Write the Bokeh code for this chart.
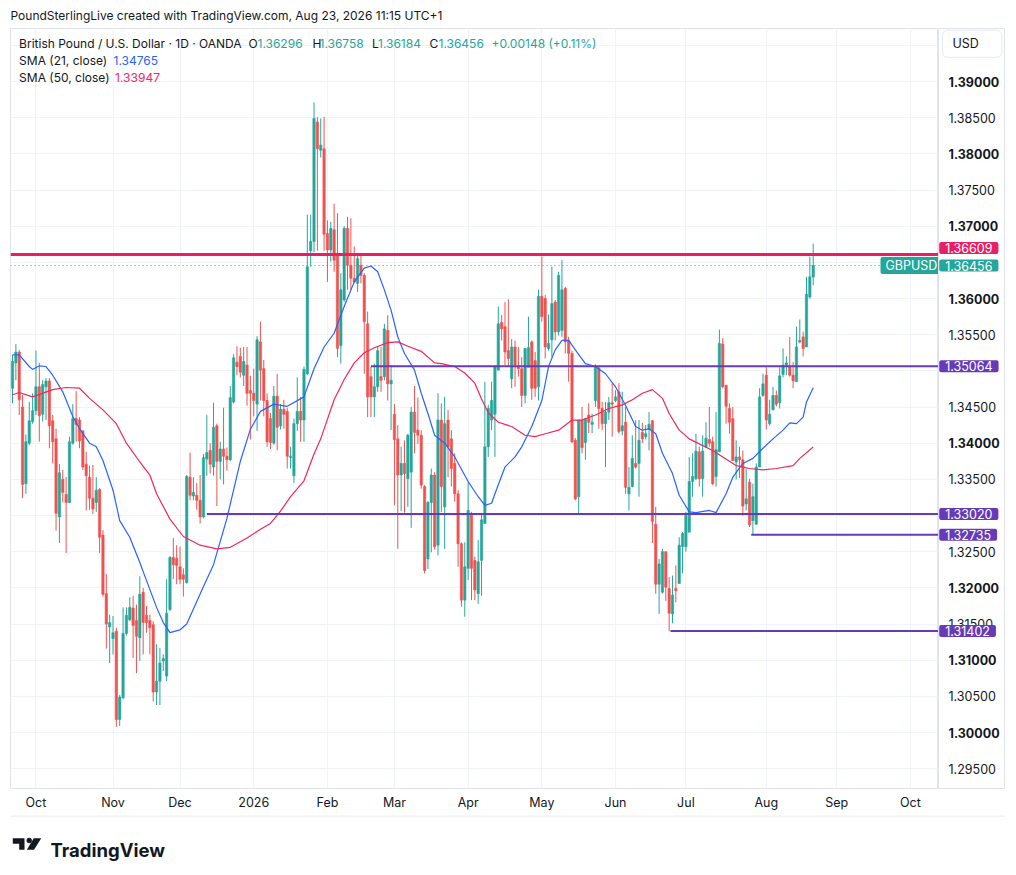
from bokeh.plotting import figure
from bokeh.layouts import column, row
from bokeh.models import (Range1d, FixedTicker, Label, Span, Grid, ColumnDataSource)
from bokeh.embed import file_html
from bokeh.resources import INLINE
from bokeh.core.properties import value

FONT = "Inter"

# ---------------- data ----------------
opens = [1.3476,1.3511,1.3526,1.3450,1.3344,1.3400,1.3430,1.3445,1.3478,1.3440,
1.3478,1.3486,1.3431,1.3406,1.3298,1.3350,1.3329,1.3318,1.3400,1.3434,
1.3432,1.3417,1.3371,1.3353,1.3324,1.3318,1.3336,1.3273,1.3192,1.3146,
1.3130,1.3140,1.3018,1.3048,1.3137,1.3156,1.3172,1.3155,1.3131,1.3194,
1.3162,1.3155,1.3149,1.3056,1.3071,1.3099,1.3078,1.3170,1.3242,1.3241,
1.3229,1.3218,1.3207,1.3353,1.3327,1.3328,1.3321,1.3298,1.3378,1.3390,
1.3367,1.3424,1.3375,1.3392,1.3382,1.3377,1.3457,1.3512,1.3520,1.3494,
1.3508,1.3473,1.3469,1.3454,1.3540,1.3503,1.3459,1.3434,1.3400,1.3465,
1.3424,1.3447,1.3444,1.3380,1.3355,1.3427,1.3444,1.3432,1.3496,1.3666,
1.3679,1.3844,1.3805,1.3807,1.3690,1.3667,1.3695,1.3660,1.3535,1.3598,
1.3697,1.3646,1.3628,1.3621,1.3646,1.3632,1.3565,1.3492,1.3464,1.3478,
1.3492,1.3492,1.3556,1.3482,1.3440,1.3406,1.3356,1.3372,1.3351,1.3360,
1.3443,1.3418,1.3411,1.3340,1.3240,1.3318,1.3356,1.3259,1.3432,1.3312,
1.3432,1.3406,1.3372,1.3330,1.3261,1.3183,1.3227,1.3303,1.3238,1.3192,
1.3238,1.3289,1.3395,1.3432,1.3440,1.3501,1.3567,1.3561,1.3528,1.3489,
1.3533,1.3506,1.3503,1.3466,1.3505,1.3540,1.3514,1.3478,1.3603,1.3600,
1.3531,1.3543,1.3595,1.3554,1.3556,1.3614,1.3542,1.3524,1.3404,1.3326,
1.3432,1.3401,1.3439,1.3426,1.3459,1.3504,1.3448,1.3427,1.3443,1.3456,
1.3459,1.3471,1.3417,1.3429,1.3330,1.3340,1.3372,1.3372,1.3415,1.3409,
1.3419,1.3431,1.3288,1.3205,1.3194,1.3250,1.3199,1.3164,1.3199,1.3206,
1.3257,1.3257,1.3277,1.3347,1.3351,1.3388,1.3351,1.3395,1.3405,1.3402,
1.3354,1.3388,1.3537,1.3480,1.3448,1.3434,1.3374,1.3381,1.3377,1.3316,
1.3346,1.3293,1.3288,1.3367,1.3466,1.3494,1.3427,1.3446,1.3466,1.3456,
1.3495,1.3508,1.3506,1.3494,1.3485,1.3540,1.3547,1.3533,1.3602,1.36296]

highs = [1.3522,1.3537,1.3529,1.3467,1.3412,1.3457,1.3469,1.3528,1.3511,1.3487,
1.3490,1.3490,1.3439,1.3420,1.3371,1.3363,1.3353,1.3409,1.3454,1.3472,
1.3436,1.3418,1.3388,1.3369,1.3370,1.3353,1.3338,1.3280,1.3219,1.3163,
1.3161,1.3145,1.3052,1.3173,1.3173,1.3187,1.3189,1.3177,1.3216,1.3200,
1.3175,1.3163,1.3154,1.3122,1.3117,1.3108,1.3212,1.3244,1.3269,1.3259,
1.3257,1.3227,1.3356,1.3387,1.3353,1.3345,1.3356,1.3385,1.3439,1.3400,
1.3456,1.3427,1.3402,1.3449,1.3394,1.3479,1.3523,1.3534,1.3532,1.3533,
1.3533,1.3493,1.3503,1.3548,1.3568,1.3515,1.3469,1.3442,1.3479,1.3496,
1.3454,1.3460,1.3449,1.3395,1.3434,1.3491,1.3464,1.3506,1.3716,1.3716,
1.3871,1.3851,1.3849,1.3851,1.3708,1.3706,1.3731,1.3718,1.3635,1.3700,
1.3713,1.3711,1.3672,1.3662,1.3662,1.3635,1.3582,1.3506,1.3510,1.3533,
1.3533,1.3565,1.3577,1.3508,1.3454,1.3425,1.3395,1.3404,1.3413,1.3450,
1.3479,1.3463,1.3418,1.3342,1.3320,1.3365,1.3360,1.3469,1.3455,1.3464,
1.3446,1.3418,1.3386,1.3335,1.3263,1.3263,1.3346,1.3305,1.3243,1.3266,
1.3303,1.3485,1.3453,1.3485,1.3508,1.3589,1.3577,1.3595,1.3599,1.3544,
1.3542,1.3533,1.3519,1.3531,1.3575,1.3542,1.3526,1.3612,1.3658,1.3605,
1.3578,1.3644,1.3598,1.3637,1.3653,1.3616,1.3547,1.3528,1.3407,1.3432,
1.3450,1.3434,1.3455,1.3441,1.3509,1.3506,1.3457,1.3457,1.3464,1.3483,
1.3473,1.3483,1.3471,1.3450,1.3367,1.3411,1.3432,1.3432,1.3428,1.3425,
1.3443,1.3432,1.3312,1.3240,1.3254,1.3250,1.3215,1.3217,1.3231,1.3270,
1.3277,1.3305,1.3381,1.3386,1.3413,1.3395,1.3411,1.3429,1.3450,1.3409,
1.3443,1.3557,1.3545,1.3480,1.3455,1.3450,1.3404,1.3395,1.3390,1.3365,
1.3351,1.3344,1.3372,1.3476,1.3496,1.3505,1.3460,1.3478,1.3473,1.3505,
1.3531,1.3520,1.3547,1.3512,1.3561,1.3571,1.3554,1.3630,1.3658,1.36758]

lows = [1.3455,1.3487,1.3439,1.3324,1.3330,1.3397,1.3427,1.3439,1.3402,1.3430,
1.3432,1.3393,1.3372,1.3279,1.3262,1.3318,1.3248,1.3317,1.3398,1.3402,
1.3393,1.3363,1.3307,1.3308,1.3302,1.3305,1.3248,1.3188,1.3116,1.3096,
1.3108,1.3008,1.3009,1.3046,1.3134,1.3154,1.3103,1.3082,1.3099,1.3108,
1.3138,1.3108,1.3043,1.3038,1.3038,1.3085,1.3071,1.3168,1.3212,1.3205,
1.3205,1.3188,1.3206,1.3321,1.3321,1.3308,1.3289,1.3296,1.3355,1.3358,
1.3355,1.3313,1.3350,1.3343,1.3362,1.3375,1.3455,1.3494,1.3491,1.3479,
1.3452,1.3405,1.3437,1.3417,1.3459,1.3437,1.3395,1.3392,1.3398,1.3390,
1.3419,1.3420,1.3365,1.3365,1.3345,1.3417,1.3402,1.3402,1.3494,1.3644,
1.3664,1.3666,1.3795,1.3666,1.3623,1.3651,1.3637,1.3519,1.3510,1.3595,
1.3612,1.3612,1.3621,1.3609,1.3621,1.3496,1.3436,1.3436,1.3436,1.3471,
1.3471,1.3487,1.3459,1.3418,1.3314,1.3254,1.3306,1.3304,1.3312,1.3283,
1.3386,1.3399,1.3337,1.3220,1.3226,1.3249,1.3253,1.3245,1.3305,1.3254,
1.3353,1.3340,1.3319,1.3229,1.3174,1.3160,1.3211,1.3183,1.3183,1.3178,
1.3189,1.3289,1.3381,1.3418,1.3381,1.3501,1.3542,1.3508,1.3506,1.3476,
1.3478,1.3492,1.3450,1.3455,1.3505,1.3460,1.3464,1.3459,1.3568,1.3517,
1.3528,1.3519,1.3542,1.3549,1.3547,1.3524,1.3485,1.3400,1.3321,1.3303,
1.3386,1.3377,1.3414,1.3414,1.3450,1.3420,1.3418,1.3367,1.3432,1.3409,
1.3457,1.3413,1.3411,1.3330,1.3307,1.3339,1.3365,1.3326,1.3400,1.3405,
1.3390,1.3262,1.3192,1.3164,1.3192,1.3182,1.3140,1.3151,1.3180,1.3206,
1.3220,1.3250,1.3277,1.3326,1.3349,1.3340,1.3326,1.3393,1.3395,1.3342,
1.3340,1.3388,1.3476,1.3427,1.3413,1.3376,1.3350,1.3352,1.3300,1.3307,
1.3284,1.3273,1.3287,1.3367,1.3464,1.3419,1.3424,1.3446,1.3451,1.3448,
1.3491,1.3494,1.3492,1.3476,1.3485,1.3538,1.3520,1.3533,1.3600,1.36184]

closes = [1.3513,1.3526,1.3460,1.3343,1.3402,1.3431,1.3445,1.3478,1.3438,1.3481,
1.3486,1.3424,1.3402,1.3303,1.3359,1.3332,1.3318,1.3402,1.3434,1.3426,
1.3403,1.3367,1.3355,1.3324,1.3309,1.3335,1.3270,1.3191,1.3150,1.3152,
1.3138,1.3018,1.3049,1.3137,1.3162,1.3173,1.3148,1.3133,1.3191,1.3152,
1.3152,1.3145,1.3056,1.3071,1.3096,1.3102,1.3165,1.3242,1.3232,1.3231,
1.3212,1.3212,1.3354,1.3328,1.3332,1.3321,1.3298,1.3380,1.3387,1.3371,
1.3422,1.3375,1.3392,1.3382,1.3377,1.3463,1.3518,1.3506,1.3498,1.3513,
1.3469,1.3469,1.3459,1.3543,1.3501,1.3459,1.3402,1.3401,1.3465,1.3422,
1.3447,1.3440,1.3382,1.3382,1.3427,1.3444,1.3432,1.3502,1.3644,1.3679,
1.3849,1.3807,1.3812,1.3689,1.3667,1.3697,1.3653,1.3531,1.3612,1.3697,
1.3646,1.3628,1.3623,1.3655,1.3632,1.3568,1.3464,1.3464,1.3478,1.3528,
1.3487,1.3558,1.3482,1.3487,1.3405,1.3356,1.3372,1.3358,1.3411,1.3443,
1.3415,1.3411,1.3342,1.3224,1.3318,1.3356,1.3257,1.3432,1.3340,1.3427,
1.3395,1.3365,1.3330,1.3261,1.3183,1.3229,1.3307,1.3227,1.3197,1.3236,
1.3294,1.3395,1.3448,1.3459,1.3506,1.3565,1.3558,1.3526,1.3517,1.3533,
1.3508,1.3503,1.3466,1.3531,1.3532,1.3476,1.3476,1.3603,1.3575,1.3533,
1.3538,1.3593,1.3554,1.3632,1.3612,1.3540,1.3524,1.3402,1.3323,1.3432,
1.3394,1.3434,1.3429,1.3429,1.3506,1.3448,1.3427,1.3443,1.3456,1.3454,
1.3464,1.3416,1.3424,1.3339,1.3339,1.3379,1.3367,1.3404,1.3406,1.3413,
1.3426,1.3292,1.3205,1.3233,1.3250,1.3201,1.3165,1.3190,1.3196,1.3259,
1.3275,1.3300,1.3347,1.3354,1.3389,1.3351,1.3389,1.3407,1.3400,1.3344,
1.3391,1.3538,1.3478,1.3451,1.3429,1.3376,1.3381,1.3377,1.3313,1.3323,
1.3287,1.3326,1.3367,1.3464,1.3482,1.3432,1.3440,1.3466,1.3454,1.3493,
1.3508,1.3511,1.3494,1.3486,1.3533,1.3542,1.3531,1.3606,1.3630,1.36456]

sma21_bar = [0,2,5,6,8,10,12,15,18,20,23,25,27,30,32,35,38,40,43,45,47,50,52,57,60,64,68,71,74,78,
             82,87,90,93,96,99,102,105,107,109,111,113,115,117,120,122,124,126,129,132,136,139,141,143,
             144,147,150,152,155,158,160,162,164,166,168,171,174,177,180,183,186,188,190,192,194,197,
             199,202,204,208,210,213,215,218,221,224,227,230,232,234,236,237,239]
sma21_val = [1.3522,1.3522,1.3506,1.3502,1.3507,1.3506,1.3494,1.3471,1.3437,1.3420,1.3400,1.3395,
             1.3376,1.3335,1.3293,1.3270,1.3235,1.3210,1.3173,1.3152,1.3138,1.3142,1.3150,1.3202,
             1.3232,1.3296,1.3375,1.3419,1.3444,1.3454,1.3451,1.3464,1.3503,1.3533,1.3552,1.3589,
             1.3623,1.3642,1.3645,1.3637,1.3612,1.3584,1.3547,1.3524,1.3501,1.3469,1.3441,1.3411,
             1.3400,1.3381,1.3347,1.3326,1.3314,1.3317,1.3330,1.3367,1.3381,1.3395,1.3423,1.3459,
             1.3506,1.3529,1.3542,1.3542,1.3529,1.3510,1.3506,1.3496,1.3478,1.3452,1.3423,1.3418,
             1.3420,1.3413,1.3386,1.3358,1.3328,1.3305,1.3304,1.3307,1.3304,1.3330,1.3353,1.3372,
             1.3379,1.3393,1.3406,1.3418,1.3428,1.3427,1.3436,1.3457,1.34765]

sma50_bar = [0,2,6,12,16,20,23,27,31,34,38,41,43,47,51,56,61,65,70,74,77,80,83,87,90,92,96,99,102,
             105,108,112,115,118,122,126,128,132,135,138,140,142,145,149,153,156,159,163,167,170,
             174,178,182,185,188,191,194,196,199,202,205,209,212,216,220,224,228,233,235,239]
sma50_val = [1.3467,1.3470,1.3464,1.3474,1.3477,1.3476,1.3462,1.3446,1.3427,1.3400,1.3374,1.3356,
             1.3330,1.3295,1.3271,1.3259,1.3254,1.3256,1.3269,1.3281,1.3289,1.3306,1.3326,1.3348,
             1.3385,1.3406,1.3460,1.3488,1.3511,1.3525,1.3532,1.3539,1.3540,1.3534,1.3527,1.3511,
             1.3510,1.3506,1.3497,1.3483,1.3461,1.3442,1.3429,1.3423,1.3411,1.3409,1.3413,1.3418,
             1.3432,1.3432,1.3439,1.3448,1.3453,1.3460,1.3469,1.3474,1.3462,1.3441,1.3418,1.3406,
             1.3399,1.3390,1.3381,1.3369,1.3365,1.3363,1.3365,1.3369,1.3379,1.33947]

month_pos = [7, 30, 50, 72, 94, 114, 136, 158, 180, 201, 225, 246, 268]
month_lbl = ["Oct", "Nov", "Dec", "2026", "Feb", "Mar", "Apr", "May", "Jun", "Jul", "Aug", "Sep", "Oct"]

price_ticks = [1.295, 1.300, 1.305, 1.310, 1.315, 1.320, 1.325, 1.330, 1.335, 1.340, 1.345,
               1.350, 1.355, 1.360, 1.365, 1.370, 1.375, 1.380, 1.385, 1.390, 1.395]
# price-scale labels that the reference actually shows (others are hidden behind tags)
price_labels = [1.295, 1.300, 1.305, 1.310, 1.315, 1.320, 1.325, 1.335, 1.340, 1.345,
                1.355, 1.360, 1.370, 1.375, 1.380, 1.385, 1.390]

level_price = [1.35064, 1.33020, 1.32735, 1.31402]
level_start = [107, 58, 220.5, 196.4]
resistance = 1.36609
last_price = 1.36456

# ---------------- styling / layout ----------------
UP, DOWN = "#26a69a", "#ef5350"
TXT = "#131722"
GRID = "#f0f3fa"
BORDER = "#e0e3eb"
PX = 0.00013825          # price per pixel of the reference scale
Y_TOP = 1.39733          # price at the top edge of the frame
FH = 760                 # frame height in px

top = [max(o, c) for o, c in zip(opens, closes)]
bot = [min(o, c) for o, c in zip(opens, closes)]
col = [UP if c >= o else DOWN for o, c in zip(opens, closes)]
src = ColumnDataSource(dict(x=list(range(len(closes))), h=highs, l=lows, top=top, bot=bot, col=col))


def bare(width, height, xr, yr):
    f = figure(width=width, height=height, x_range=xr, y_range=yr, x_axis_location=None,
               y_axis_location=None, output_backend="svg", toolbar_location=None,
               min_border_left=0, min_border_right=0, min_border_top=0, min_border_bottom=0,
               background_fill_color="white", border_fill_color="white", outline_line_color=None)
    f.xgrid.visible = False
    f.ygrid.visible = False
    return f


# header strip
header = bare(1005, 28, Range1d(0, 1005), Range1d(28, 0))
header.text(x=[10], y=[15], text=["PoundSterlingLive created with TradingView.com, Aug 23, 2026 11:15 UTC+1"],
            text_font=value(FONT), text_font_size="12px", text_color=TXT, text_baseline="middle")

# main price panel
yr = Range1d(Y_TOP - FH * PX, Y_TOP)
p = figure(width=938, height=787, x_range=Range1d(-0.6, 276.4), y_range=yr,
           x_axis_location="below", y_axis_location=None, output_backend="svg", toolbar_location=None,
           min_border_left=10, min_border_right=0, min_border_top=0, min_border_bottom=27,
           background_fill_color="white", border_fill_color="white", outline_line_color=BORDER)
p.xaxis.ticker = FixedTicker(ticks=month_pos)
p.xaxis.major_label_overrides = {pos: lbl for pos, lbl in zip(month_pos, month_lbl)}
p.xaxis.axis_line_color = None
p.xaxis.major_tick_line_color = None
p.xaxis.minor_tick_line_color = None
p.xaxis.major_tick_out = 0
p.xaxis.minor_tick_out = 0
p.xaxis.major_label_standoff = 6
p.xaxis.major_label_text_font = FONT
p.xaxis.major_label_text_font_size = "12.5px"
p.xaxis.major_label_text_color = TXT
p.xgrid.grid_line_color = GRID
p.xgrid.ticker = FixedTicker(ticks=month_pos)
for g in p.ygrid:
    g.visible = False
p.add_layout(Grid(dimension=1, ticker=FixedTicker(ticks=price_ticks), grid_line_color=GRID))

# candles
p.segment(x0="x", y0="h", x1="x", y1="l", color="col", line_width=1, source=src)
p.vbar(x="x", width=0.7, top="top", bottom="bot", fill_color="col", line_color="col", line_width=0.6, source=src)

# moving averages
p.line(sma21_bar, sma21_val, color="#2962ff", line_width=1.2)
p.line(sma50_bar, sma50_val, color="#f0275f", line_width=1.2)

# horizontal levels
p.add_layout(Span(location=last_price, dimension="width", line_color=UP, line_dash="1 3", line_width=1))
p.add_layout(Span(location=resistance, dimension="width", line_color="#e91e63", line_width=3))
p.ray(x=level_start, y=level_price, length=0, angle=0, color="#673ab7", line_width=2)

# GBPUSD symbol tag inside the pane
p.add_layout(Label(x=870, y=last_price, x_units="screen", y_units="data", text="GBPUSD",
                   text_color="white", text_font=FONT, text_font_size="12.5px", text_baseline="middle",
                   text_align="left", background_fill_color=UP, padding=(5, 1), border_radius=2))


def txt(px, py, text, color=TXT, size="12px"):
    p.add_layout(Label(x=px - 10, y=788 - py, x_units="screen", y_units="screen", text=text,
                       text_font=FONT, text_font_size=size, text_color=color,
                       text_baseline="middle", text_align="left"))


txt(18.6, 43, "British Pound / U.S. Dollar · 1D · OANDA")
for lx, letter, vx, val in [(248, "O", 257, "1.36296"), (312, "H", 319, "1.36758"),
                            (371.5, "L", 377.5, "1.36184"), (429, "C", 438, "1.36456")]:
    txt(lx, 43, letter)
    txt(vx, 43, val, UP)
txt(491, 43, "+0.00148 (+0.11%)", UP)
txt(18.6, 60, "SMA (21, close)")
txt(113, 60, "1.34765", "#2962ff")
txt(18.6, 77, "SMA (50, close)")
txt(114.6, 77, "1.33947", "#f0275f")

# right price scale (separate pane sharing the price range)
side = bare(67, 787, Range1d(0, 67), yr)
side.outline_line_color = BORDER
reg = [v for v in price_labels if round(v * 1000) % 10 != 0]
bold = [v for v in price_labels if round(v * 1000) % 10 == 0]
r1 = side.text(x=[10] * len(reg), y=reg, text=[f"{v:.5f}" for v in reg], text_font=value(FONT),
               text_font_size="12.5px", text_color=TXT, text_baseline="middle", text_align="left")
r2 = side.text(x=[10] * len(bold), y=bold, text=[f"{v:.5f}" for v in bold], text_font=value(FONT),
               text_font_size="12.5px", text_font_style="bold", text_color=TXT,
               text_baseline="middle", text_align="left")
r1.level = "underlay"
r2.level = "underlay"


def tag(price, text, bg):
    side.add_layout(Label(x=0.7, y=price, x_units="screen", y_units="data", text=text,
                          text_color="white", text_font=FONT, text_font_size="12.5px",
                          text_baseline="middle", text_align="left", background_fill_color=bg,
                          padding=(6, 1), border_radius=2))


tag(resistance + 6.4 * PX, f"{resistance:.5f}", "#e91e63")
tag(last_price, f"{last_price:.5f}", UP)
for lv in level_price:
    tag(lv, f"{lv:.5f}", "#673ab7")
side.add_layout(Label(x=4, y=744.7, x_units="screen", y_units="screen", text="USD",
                      text_font=FONT, text_font_size="12.5px", text_color=TXT, text_baseline="middle",
                      text_align="left", border_line_color="#e6e9f0", background_fill_color="white",
                      padding=(10, 23, 6, 6), border_radius=5))

# footer with logo
footer = bare(1005, 60, Range1d(0, 1005), Range1d(60, 0))
footer.segment(x0=[10], y0=[0.5], x1=[1005], y1=[0.5], color=BORDER, line_width=1)
footer.patches(xs=[[12.3, 24, 24, 18.7, 18.7, 12.3], [33.3, 40.7, 33.5, 26.3]],
               ys=[[22.7, 22.7, 34.3, 34.3, 28.3, 28.3], [22.7, 22.7, 34.3, 34.3]],
               fill_color=TXT, line_color=None)
footer.scatter(x=[28.7], y=[25], size=4.6, color=TXT)
footer.text(x=[50], y=[34.3], text=["TradingView"], text_font=value(FONT), text_font_size="18.5px",
            text_font_style="bold", text_color=TXT, text_baseline="alphabetic", text_align="left")

layout = column(header, row(p, side), footer)
open("out.html", "w").write(file_html(layout, INLINE))
